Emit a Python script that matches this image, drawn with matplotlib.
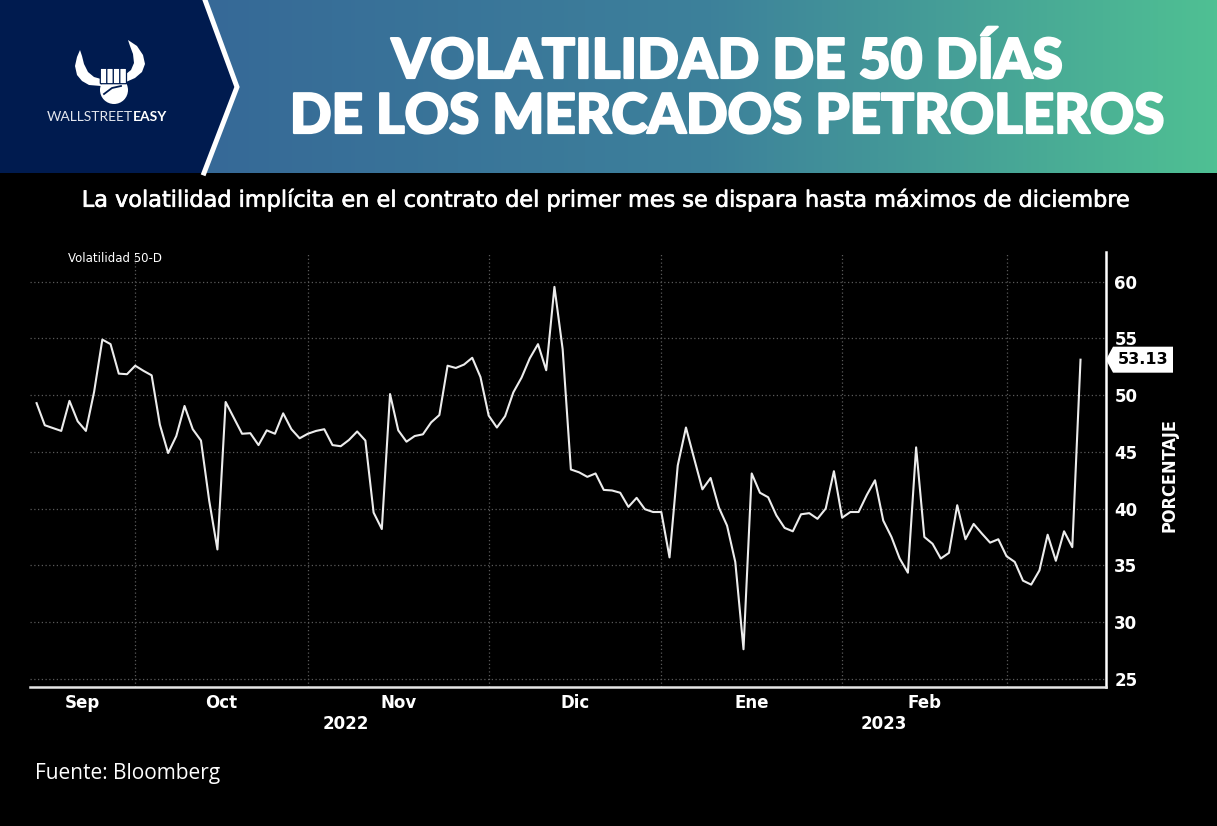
import numpy as np
import pandas as pd
import matplotlib
matplotlib.use("Agg")
import matplotlib.pyplot as plt
import matplotlib.patheffects as pe
from matplotlib.patches import Polygon, Circle, FancyBboxPatch
from matplotlib.transforms import blended_transform_factory
from matplotlib.colors import LinearSegmentedColormap

# ---------------- data ----------------
start_date = "2022-09-15"
end_date = "2023-03-14"
holidays = ["2022-12-26"]

vol_50d = [
    49.3, 47.35, 47.1, 46.85, 49.5, 47.7, 46.85, 50.3, 54.9, 54.5,
    51.9, 51.85, 52.6, 52.15, 51.75, 47.4, 44.9, 46.4, 49.05, 47.0,
    46.0, 40.7, 36.4, 49.4, 48.0, 46.6, 46.65, 45.6, 46.9, 46.6,
    48.4, 47.0, 46.2, 46.6, 46.85, 47.0, 45.6, 45.5, 46.05, 46.8,
    46.0, 39.65, 38.2, 50.1, 46.9, 45.9, 46.4, 46.55, 47.6, 48.25,
    52.6, 52.4, 52.7, 53.3, 51.6, 48.2, 47.15, 48.15, 50.25, 51.55,
    53.25, 54.5, 52.2, 59.55, 54.05, 43.45, 43.2, 42.8, 43.1, 41.65,
    41.6, 41.4, 40.15, 40.95, 39.95, 39.7, 39.7, 35.7, 43.8, 47.15,
    44.4, 41.7, 42.7, 40.1, 38.5, 35.3, 27.6, 43.1, 41.4, 41.0,
    39.4, 38.3, 38.0, 39.5, 39.6, 39.1, 40.0, 43.3, 39.2, 39.7,
    39.7, 41.2, 42.5, 38.95, 37.5, 35.6, 34.35, 45.4, 37.5, 36.9,
    35.6, 36.1, 40.3, 37.3, 38.65, 37.8, 37.0, 37.3, 35.8, 35.3,
    33.65, 33.3, 34.55, 37.7, 35.4, 38.0, 36.6, 53.13,
]

month_names = ["Sep", "Oct", "Nov", "Dic", "Ene", "Feb"]
month_keys = [(2022, 9), (2022, 10), (2022, 11), (2022, 12), (2023, 1), (2023, 2)]
year_labels = ["2022", "2023"]
y_ticks = [25, 30, 35, 40, 45, 50, 55, 60]
last_label = "53.13"

title_lines = ["VOLATILIDAD DE 50 DÍAS", "DE LOS MERCADOS PETROLEROS"]
subtitle = "La volatilidad implícita en el contrato del primer mes se dispara hasta máximos de diciembre"
series_label = "Volatilidad 50-D"
y_label = "PORCENTAJE"
source = "Fuente: Bloomberg"
brand_light = "WALLSTREET"
brand_bold = "EASY"

# ---------------- setup ----------------
W, H, DPI = 1217, 826, 100
NAVY = "#001b4f"

dates = pd.bdate_range(start_date, end_date)
dates = dates[~dates.isin(pd.to_datetime(holidays))]
idx = np.arange(len(dates))
values = np.array(vol_50d)

fig = plt.figure(figsize=(W / DPI, H / DPI), dpi=DPI, facecolor="black")
renderer = fig.canvas.get_renderer()

bg = fig.add_axes([0, 0, 1, 1], zorder=0)
bg.set_facecolor("black")

# header gradient
grad = np.linspace(0, 1, 512).reshape(1, -1)
cmap = LinearSegmentedColormap.from_list("hdr", ["#366997", "#3d819b", "#4fc093"])
bg.imshow(grad, extent=(205, W, 173, 0), cmap=cmap, aspect="auto", zorder=0)
bg.add_patch(Polygon([(0, 0), (205, 0), (237, 87), (204, 173), (0, 173)],
                     closed=True, facecolor=NAVY, edgecolor="none", zorder=1))
bg.plot([205, 237, 204], [0, 87, 173], color="white", lw=3.6,
        solid_joinstyle="miter", zorder=2)

# logo: horns + fist
bg.add_patch(Polygon([(80, 50), (77, 57), (75, 66), (77, 75), (82, 81), (89, 85), (101, 86),
                      (101, 79), (94, 77), (88, 72), (84, 64), (82, 56)], closed=True,
                     facecolor="white", edgecolor="none", zorder=3))
bg.add_patch(Polygon([(128, 40), (137, 46), (143, 55), (145, 64), (142, 72), (135, 78),
                      (126, 82), (126, 74), (131, 70), (134, 63), (133, 54), (130, 46)],
                     closed=True, facecolor="white", edgecolor="none", zorder=3))
bg.add_patch(Circle((114, 90), 14, facecolor="white", edgecolor="none", zorder=3))
for fx in [101, 107.5, 114, 120.5]:
    bg.add_patch(FancyBboxPatch((fx, 69), 5.3, 14, boxstyle="round,pad=0.7",
                                facecolor="white", edgecolor=NAVY, lw=0.9, zorder=4))
bg.plot([104, 112, 121], [94, 88, 86], color=NAVY, lw=1.3, zorder=5)

bg.text(133, 117, brand_light, color="#e3e6ee", fontsize=10, fontweight="normal",
        family=["Lato", "DejaVu Sans"], ha="right", va="center", zorder=5)
bg.text(133, 117, brand_bold, color="white", fontsize=10, fontweight="bold",
        family=["Lato", "DejaVu Sans"], ha="left", va="center", zorder=5)

# titles
heavy = [pe.withStroke(linewidth=1.6, foreground="white")]
t1 = bg.text(727, 78, title_lines[0], color="white", fontsize=40, fontweight="black",
             family=["Lato", "DejaVu Sans"], ha="center", va="baseline", zorder=5,
             path_effects=heavy)
t2 = bg.text(727, 133, title_lines[1], color="white", fontsize=40, fontweight="black",
             family=["Lato", "DejaVu Sans"], ha="center", va="baseline", zorder=5,
             path_effects=heavy)
st = bg.text(606, 200, subtitle, color="white", fontsize=15,
             family=["DejaVu Sans"], ha="center", va="center", zorder=5,
             path_effects=[pe.withStroke(linewidth=0.5, foreground="white")])

bg.set_xlim(0, W)
bg.set_ylim(H, 0)
bg.axis("off")


def fit_width(t, target):
    w = t.get_window_extent(renderer).width
    t.set_fontsize(t.get_fontsize() * target / w)


fit_width(t1, 671)
fit_width(t2, 874)
fit_width(st, 1050)

# ---------------- plot axes ----------------
ax_l, ax_r, ax_t, ax_b = 30, 1106, 251.7, 686.7
ax = fig.add_axes([ax_l / W, 1 - ax_b / H, (ax_r - ax_l) / W, (ax_b - ax_t) / H], zorder=2)
ax.set_facecolor("none")
ax.plot(idx, values, color="#ececec", lw=1.5, zorder=3)
x_lo, x_hi = -0.8, 130.1
ax.set_xlim(x_lo, x_hi)
ax.set_ylim(24.3, 62.65)

# month boundaries and centres from the dates
period = dates.to_period("M")
month_start_idx = [int(np.argmax(period == pd.Period(f"{y}-{m:02d}", "M")))
                   for (y, m) in month_keys[1:]] + [int(np.argmax(period == pd.Period("2023-03", "M")))]
bounds = [x_lo] + month_start_idx
centers = [(bounds[i] + bounds[i + 1]) / 2 for i in range(len(month_names))]

ax.set_xticks(month_start_idx, minor=True)
ax.set_xticks(centers)
ax.set_xticklabels(month_names)
ax.tick_params(axis="x", which="both", length=0, pad=5, labelsize=12, labelcolor="white")
for lab in ax.get_xticklabels():
    lab.set_fontweight("bold")
ax.grid(axis="x", which="minor", color="#5a5a5a", linestyle=(0, (1, 2)), lw=0.9)
ax.grid(axis="x", which="major", visible=False)

ax.yaxis.tick_right()
ax.set_yticks(y_ticks)
ax.set_yticklabels([str(v) for v in y_ticks])
ax.tick_params(axis="y", length=0, pad=6, labelsize=12, labelcolor="white")
for lab in ax.get_yticklabels():
    lab.set_fontweight("bold")
ax.grid(axis="y", which="major", color="#5a5a5a", linestyle=(0, (1, 2)), lw=0.9)
ax.set_axisbelow(True)

for s in ["top", "left"]:
    ax.spines[s].set_visible(False)
ax.spines["bottom"].set_color("#e6e6e6")
ax.spines["bottom"].set_linewidth(1.8)
ax.spines["right"].set_color("white")
ax.spines["right"].set_linewidth(1.8)

# year labels
jan_idx = int(np.argmax(period == pd.Period("2023-01", "M")))
trans = blended_transform_factory(ax.transData, ax.transAxes)
for yl, xc in zip(year_labels, [(x_lo + jan_idx) / 2, (jan_idx + x_hi) / 2]):
    ax.text(xc, -0.086, yl, transform=trans, color="white", fontsize=12,
            fontweight="bold", ha="center", va="center")

# series label, axis label, source
bg.text(68, 258, series_label, color="white", fontsize=8.5, ha="left", va="center", zorder=5)
bg.text(1170, 475, y_label, color="white", fontsize=13, fontweight="bold",
        fontstretch="condensed", rotation=90, ha="center", va="center", zorder=5)
bg.text(35, 773, source, color="white", fontsize=15, family=["Open Sans", "DejaVu Sans"],
        ha="left", va="center", zorder=5)

# last value tag
tip = ax.transData.transform((x_hi, values[-1]))
px, py = tip[0], H - tip[1]
bg.add_patch(Polygon([(px, py), (px + 7, py - 13), (px + 67, py - 13), (px + 67, py + 13),
                      (px + 7, py + 13)], closed=True, facecolor="white",
                     edgecolor="none", zorder=6))
bg.text(px + 37, py, last_label, color="black", fontsize=11.5, fontweight="bold",
        ha="center", va="center", zorder=7)

fig.savefig("out.png", dpi=DPI, facecolor="black")
